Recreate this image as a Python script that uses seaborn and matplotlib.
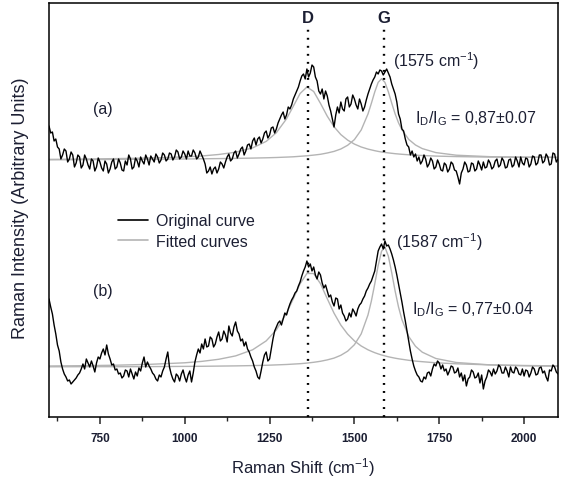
import numpy as np
import pandas as pd
import matplotlib
matplotlib.use("Agg")
import matplotlib.pyplot as plt
from matplotlib.lines import Line2D
from matplotlib.ticker import MultipleLocator
import seaborn as sns

# ---------------- data ----------------
raman_shift = list(range(600, 2101, 5))

spectrum_a = [291, 284, 285, 276, 278, 270, 268, 258, 262, 268, 266, 255, 258, 265, 262, 250, 254, 262, 260, 249,
              252, 262, 258, 252, 248, 258, 256, 246, 250, 259, 255, 249, 246, 256, 253, 244, 248, 255, 258, 248,
              250, 258, 254, 247, 246, 256, 252, 262, 258, 248, 250, 259, 256, 250, 260, 256, 253, 262, 258, 252,
              261, 258, 255, 263, 260, 254, 257, 264, 262, 256, 258, 264, 263, 257, 260, 267, 265, 258, 260, 266,
              263, 258, 266, 261, 261, 267, 264, 258, 260, 266, 262, 258, 253, 244, 246, 250, 243, 248, 250, 244,
              248, 255, 253, 249, 255, 260, 263, 256, 258, 264, 266, 259, 263, 268, 270, 262, 266, 272, 273, 268,
              276, 279, 272, 278, 280, 274, 278, 284, 286, 279, 282, 289, 290, 284, 288, 294, 298, 302, 305, 298,
              302, 310, 308, 312, 318, 322, 326, 330, 336, 341, 343, 338, 348, 340, 344, 352, 350, 340, 336, 326,
              323, 328, 318, 326, 321, 312, 306, 298, 290, 302, 310, 304, 315, 308, 306, 318, 320, 310, 313, 322,
              318, 312, 308, 318, 313, 306, 310, 317, 323, 328, 333, 337, 340, 345, 343, 347, 346, 342, 345, 348,
              344, 340, 333, 328, 323, 315, 303, 298, 288, 286, 278, 272, 270, 262, 266, 260, 263, 256, 260, 253,
              256, 262, 258, 250, 253, 259, 256, 248, 250, 257, 253, 247, 246, 254, 252, 245, 248, 255, 253, 247,
              246, 240, 233, 244, 248, 255, 252, 245, 246, 254, 253, 246, 248, 256, 252, 247, 255, 249, 250, 257,
              254, 248, 250, 256, 258, 250, 252, 259, 256, 249, 250, 257, 258, 250, 252, 260, 256, 250, 260, 254,
              252, 259, 258, 250, 253, 261, 260, 252, 254, 262, 262, 254, 256, 263, 260, 252, 253, 264, 263, 255,
              258]

spectrum_b = [118, 110, 103, 92, 83, 72, 66, 55, 48, 43, 40, 36, 37, 33, 35, 37, 39, 42, 44, 48,
              53, 48, 58, 54, 50, 56, 51, 45, 54, 60, 58, 64, 68, 62, 72, 63, 58, 52, 53, 47,
              48, 43, 44, 39, 41, 47, 46, 40, 48, 43, 38, 45, 41, 49, 46, 54, 60, 50, 55, 51,
              48, 44, 42, 38, 36, 42, 40, 46, 50, 58, 65, 50, 43, 38, 35, 43, 41, 36, 43, 47,
              40, 35, 42, 46, 35, 44, 55, 62, 68, 64, 73, 68, 78, 70, 71, 80, 78, 70, 73, 80,
              85, 76, 78, 86, 82, 75, 91, 84, 81, 90, 95, 86, 83, 76, 78, 71, 75, 68, 65, 60,
              56, 50, 46, 40, 38, 46, 55, 62, 65, 56, 58, 68, 78, 86, 90, 94, 96, 92, 98, 104,
              102, 108, 113, 117, 120, 124, 126, 131, 135, 141, 146, 150, 156, 150, 153, 146, 150, 142, 138, 145,
              142, 134, 129, 132, 126, 120, 122, 115, 111, 119, 118, 108, 112, 104, 101, 96, 98, 104, 100, 108,
              105, 101, 108, 112, 114, 118, 121, 126, 129, 133, 136, 141, 146, 156, 166, 170, 173, 168, 176, 171,
              172, 168, 163, 157, 150, 142, 133, 124, 115, 105, 96, 86, 76, 66, 58, 51, 46, 42, 40, 36,
              35, 40, 38, 44, 45, 41, 48, 53, 51, 56, 54, 48, 52, 46, 48, 42, 46, 51, 50, 44,
              45, 49, 40, 44, 36, 42, 31, 38, 40, 47, 45, 39, 40, 44, 34, 42, 28, 36, 40, 47,
              45, 41, 48, 43, 46, 52, 50, 44, 44, 50, 46, 40, 50, 45, 44, 50, 48, 43, 42, 48,
              41, 47, 46, 40, 44, 50, 48, 42, 43, 49, 50, 44, 46, 40, 36, 47, 46, 52, 50, 45,
              43]

fit_shift = [600, 700, 800, 900, 1000, 1050, 1100, 1150, 1200, 1240,
             1270, 1300, 1320, 1340, 1360, 1380, 1400, 1420, 1440, 1460,
             1480, 1500, 1520, 1540, 1550, 1560, 1570, 1580, 1590, 1600,
             1610, 1620, 1630, 1640, 1660, 1680, 1700, 1740, 1800, 1900,
             2000, 2100]

fit_a_D = [257.6, 257.9, 258.4, 259.0, 260.1, 261.0, 262.5, 264.8, 269.1, 275.6,
           284.3, 298.2, 310.8, 323.5, 330.0, 325.5, 313.6, 300.8, 290.2, 282.4,
           276.9, 272.9, 270.0, 267.9, 267.1, 266.3, 265.6, 265.0, 264.5, 264.1,
           263.7, 263.3, 263.0, 262.7, 262.2, 261.8, 261.5, 260.9, 260.4, 259.9,
           259.8, 259.6]
fit_a_G = [257.2, 257.3, 257.6, 257.8, 258.0, 258.2, 258.4, 258.6, 258.9, 259.2,
           259.5, 259.9, 260.2, 260.7, 261.2, 261.9, 262.7, 264.0, 265.6, 268.0,
           271.7, 277.4, 287.0, 303.0, 313.7, 325.1, 334.6, 338.3, 334.6, 325.2,
           313.8, 303.1, 294.2, 287.2, 277.6, 272.0, 268.4, 264.4, 261.8, 260.3,
           259.8, 259.6]
fit_b_D = [51.0, 51.3, 51.8, 52.7, 54.2, 55.6, 57.7, 61.1, 67.2, 76.1,
           87.1, 103.8, 118.3, 133.3, 143.5, 143.5, 133.3, 118.3, 103.8, 91.9,
           82.9, 76.1, 71.0, 67.2, 65.7, 64.3, 63.1, 62.0, 61.1, 60.2,
           59.5, 58.8, 58.2, 57.7, 56.7, 55.9, 55.3, 54.2, 53.2, 52.1,
           51.5, 51.1]
fit_b_G = [50.2, 50.3, 50.3, 50.4, 50.6, 50.7, 50.9, 51.1, 51.4, 51.7,
           52.1, 52.5, 52.9, 53.3, 53.9, 54.7, 55.7, 57.1, 58.9, 61.7,
           65.8, 72.3, 83.1, 102.0, 116.0, 133.1, 151.4, 165.8, 169.7, 160.9,
           144.2, 125.9, 110.0, 97.4, 80.5, 70.7, 64.8, 58.5, 54.5, 52.1,
           51.2, 50.8]

band_names = ["D", "G"]
band_positions = [1362, 1588]

sample_labels = ["(a)", "(b)"]
g_labels = [r"(1575 cm$^{\mathregular{-1}}$)", r"(1587 cm$^{\mathregular{-1}}$)"]
ratio_labels = [r"I$_{\mathregular{D}}$/I$_{\mathregular{G}}$ = 0,87±0.07",
                r"I$_{\mathregular{D}}$/I$_{\mathregular{G}}$ = 0,77±0.04"]
legend_labels = ["Original curve", "Fitted curves"]
x_label = r"Raman Shift (cm$^{\mathregular{-1}}$)"
y_label = "Raman Intensity (Arbitrary Units)"

# ---------------- style ----------------
sns.set_style("ticks")
plt.rcParams["font.family"] = ["Liberation Sans", "DejaVu Sans"]
plt.rcParams["mathtext.fontset"] = "custom"
plt.rcParams["mathtext.rm"] = "Liberation Sans"
plt.rcParams["mathtext.it"] = "Liberation Sans:italic"
plt.rcParams["mathtext.bf"] = "Liberation Sans:bold"

TXT = "#1c1f33"
FIT = "#b4b4b4"

fig = plt.figure(figsize=(5.62, 4.81), dpi=100)
ax = fig.add_axes([0.0872, 0.131, 0.9057, 0.8607])

df_a = pd.DataFrame({"shift": raman_shift, "intensity": spectrum_a})
df_b = pd.DataFrame({"shift": raman_shift, "intensity": spectrum_b})
fits = pd.DataFrame({"shift": fit_shift, "aD": fit_a_D, "aG": fit_a_G,
                     "bD": fit_b_D, "bG": fit_b_G})

for col in ["aD", "aG", "bD", "bG"]:
    sns.lineplot(data=fits, x="shift", y=col, ax=ax, color=FIT, lw=1.0,
                 estimator=None, sort=False, zorder=2)
for df in (df_a, df_b):
    sns.lineplot(data=df, x="shift", y="intensity", ax=ax, color="black",
                 lw=1.0, estimator=None, sort=False, zorder=3)

ax.set_xlim(600, 2100)
ax.set_ylim(0, 414)

# band guide lines
for name, pos in zip(band_names, band_positions):
    ax.vlines(pos, 0, 388, colors="black", linestyles=(0, (0.8, 2.6)), lw=1.7, zorder=4)
    ax.text(pos, 399, name, ha="center", va="center", fontsize=12,
            fontweight="bold", color=TXT)

# annotations
FS = 11.5
ax.text(759, 308, sample_labels[0], ha="center", va="center", fontsize=FS, color=TXT)
ax.text(759, 126, sample_labels[1], ha="center", va="center", fontsize=FS, color=TXT)
ax.text(1613, 357, g_labels[0], ha="left", va="center", fontsize=FS, color=TXT)
ax.text(1622, 176, g_labels[1], ha="left", va="center", fontsize=FS, color=TXT)
ax.text(1680, 299, ratio_labels[0], ha="left", va="center", fontsize=FS, color=TXT)
ax.text(1669, 108, ratio_labels[1], ha="left", va="center", fontsize=FS, color=TXT)

handles = [Line2D([], [], color="black", lw=1.2),
           Line2D([], [], color=FIT, lw=1.2)]
ax.legend(handles, legend_labels, loc="upper left", bbox_to_anchor=(0.1356, 0.492),
          frameon=False, fontsize=11.5, handlelength=1.9, handletextpad=0.45,
          labelspacing=0.35, borderaxespad=0, borderpad=0, labelcolor=TXT)

# axes styling
ax.set_yticks([])
ax.xaxis.set_major_locator(MultipleLocator(250))
ax.xaxis.set_minor_locator(MultipleLocator(125))
ax.tick_params(axis="x", which="major", direction="out", length=5, width=1.1,
               labelsize=8.5, labelcolor=TXT, pad=6)
ax.tick_params(axis="x", which="minor", direction="out", length=3, width=1.0)
for lab in ax.get_xticklabels():
    lab.set_fontweight("bold")
for sp in ax.spines.values():
    sp.set_visible(True)
    sp.set_linewidth(1.1)
    sp.set_color("black")

ax.set_xlabel(x_label, fontsize=12, color=TXT, labelpad=8)
ax.set_ylabel(y_label, fontsize=13, color=TXT)
ax.yaxis.set_label_coords(-0.04, 0.507)

fig.savefig("out.png", dpi=100)
